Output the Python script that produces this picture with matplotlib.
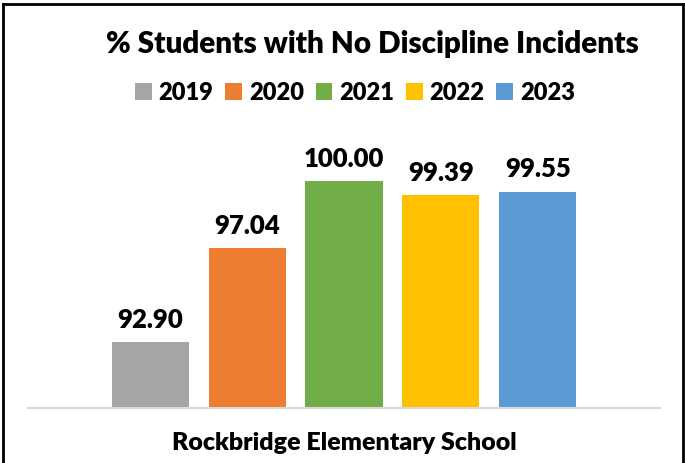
import numpy as np
import matplotlib
matplotlib.use('Agg')
import matplotlib.pyplot as plt
from matplotlib.patches import Patch
from matplotlib.lines import Line2D

plt.rcParams['font.family'] = ['Lato', 'DejaVu Sans']
plt.rcParams['font.weight'] = 'heavy'

years = ['2019', '2020', '2021', '2022', '2023']
values = [92.90, 97.04, 100.00, 99.39, 99.55]
colors = ['#A5A5A5', '#ED7D31', '#70AD47', '#FFC000', '#5B9BD5']
category = 'Rockbridge Elementary School'
title = '% Students with No Discipline Incidents'

W, H = 685, 463
fig = plt.figure(figsize=(W / 100, H / 100), dpi=100)
# axes spans x 28..660, baseline at y=408
ax = fig.add_axes([28 / W, 1 - 408 / H, 632 / W, 272 / H])

x = np.arange(len(years)) - 2
bars = ax.bar(x, values, width=0.794, color=colors, zorder=2)
for b, v in zip(bars, values):
    ax.text(b.get_x() + b.get_width() / 2, v + 0.45, f'{v:.2f}',
            ha='center', va='bottom', fontsize=18.5, fontweight='heavy')

ax.set_xlim(-3.258, 3.258)
ax.set_ylim(90, 102)
ax.set_yticks([])
ax.set_xticks([0])
ax.set_xticklabels([category], fontsize=18, fontweight='heavy')
ax.tick_params(axis='x', length=0, pad=17)
for s in ['top', 'right', 'left']:
    ax.spines[s].set_visible(False)
ax.spines['bottom'].set_color('#D9D9D9')
ax.spines['bottom'].set_linewidth(1.5)

fig.text(372 / W, 1 - 44 / H, title, ha='center', va='center',
         fontsize=21.3, fontweight='heavy')

handles = [Patch(facecolor=c, label=y) for c, y in zip(colors, years)]
fig.legend(handles=handles, loc='center', bbox_to_anchor=(355 / W, 1 - 93 / H),
           ncol=5, frameon=False, handlelength=0.7, handleheight=0.7,
           handletextpad=0.3, columnspacing=0.5, prop={'weight': 'heavy', 'size': 17})

# border (bottom edge cropped off in the reference)
fig.add_artist(Line2D([3 / W, 3 / W], [0, 1 - 4 / H], color='black', lw=2))
fig.add_artist(Line2D([3 / W, 683 / W], [1 - 4 / H, 1 - 4 / H], color='black', lw=2))
fig.add_artist(Line2D([683 / W, 683 / W], [0, 1 - 4 / H], color='black', lw=2))

fig.savefig('out.png', dpi=100)
